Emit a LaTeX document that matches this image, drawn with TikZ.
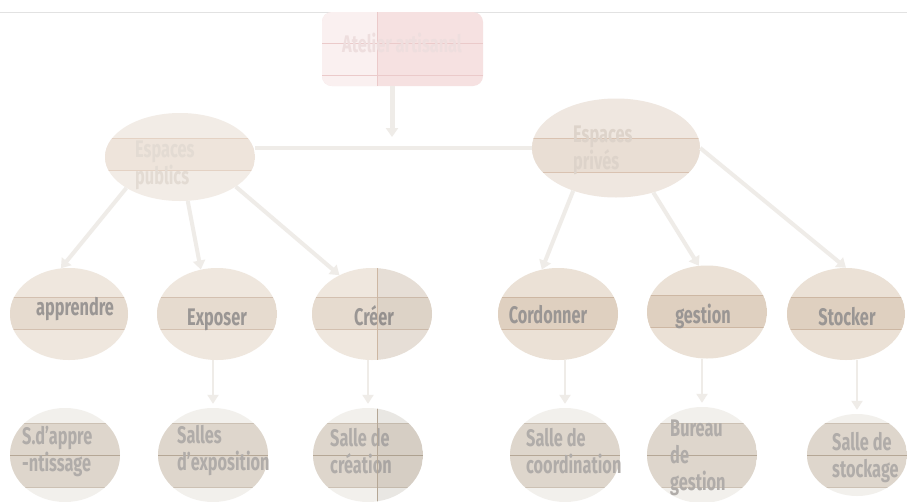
\documentclass[tikz,border=0pt]{standalone}
\usepackage{fontspec}
\setmainfont{Fira Sans}[FakeStretch=0.68]
\usetikzlibrary{shapes.geometric,arrows.meta}
\definecolor{lineC}{HTML}{EFECE8}
\definecolor{topC}{HTML}{E2E2E2}
\definecolor{titleR}{HTML}{F6E1E1}
\definecolor{titleL}{HTML}{FAF0F0}
\definecolor{titleLine}{HTML}{EBCACA}
\definecolor{titleTxt}{HTML}{EEDEDE}
\definecolor{pubOut}{HTML}{F2ECE6}
\definecolor{pubBand}{HTML}{EEE4DB}
\definecolor{pubLine}{HTML}{E4D2C4}
\definecolor{pubTxt}{HTML}{E3DBD3}
\definecolor{privOut}{HTML}{EFE7E0}
\definecolor{privBand}{HTML}{E9DED4}
\definecolor{privLine}{HTML}{D9C2B1}
\definecolor{privTxt}{HTML}{DDD3CA}
\definecolor{aOut}{HTML}{EFE7DE}
\definecolor{aBand}{HTML}{E6DBCF}
\definecolor{aLine}{HTML}{D3C0B0}
\definecolor{bOut}{HTML}{EBE1D6}
\definecolor{bBand}{HTML}{DFD0C0}
\definecolor{bLine}{HTML}{CDB7A3}
\definecolor{cOut}{HTML}{F2F0EC}
\definecolor{cBand}{HTML}{DED6CC}
\definecolor{cLine}{HTML}{CCC1B4}
\definecolor{cMid}{HTML}{B5A796}
\definecolor{txtTwo}{HTML}{9A9694}
\definecolor{txtThree}{HTML}{B0ACA9}
\tikzset{
  bandy/.style n args={4}{path picture={
    \fill[#3] ([yshift=#1]path picture bounding box.west) rectangle ([yshift=#2]path picture bounding box.east);
    \draw[#4,line width=0.7pt] ([yshift=#1]path picture bounding box.west) -- ([yshift=#1]path picture bounding box.east)
      ([yshift=#2]path picture bounding box.west) -- ([yshift=#2]path picture bounding box.east);}},
  blob/.style n args={3}{ellipse, draw=none, inner sep=0pt, minimum width=#1, minimum height=#2, fill=#3},
  lvlthree/.style n args={3}{ellipse, draw=none, inner sep=0pt, minimum width=#1, minimum height=#2, fill=cOut,
    path picture={
    \fill[#3] ([yshift=32pt]path picture bounding box.west) rectangle ([yshift=-32pt]path picture bounding box.east);
    \draw[cLine,line width=0.7pt] ([yshift=32pt]path picture bounding box.west) -- ([yshift=32pt]path picture bounding box.east)
      ([yshift=-32pt]path picture bounding box.west) -- ([yshift=-32pt]path picture bounding box.east);
    \draw[cMid,line width=0.8pt] (path picture bounding box.west) -- (path picture bounding box.east);}},
  txtb/.style={font=\fontsize{24}{27}\selectfont\bfseries, inner sep=0pt, align=left},
  conn/.style={draw=lineC, line width=4pt},
  arr/.style={conn, -{Triangle[width=12pt,length=9pt]}},
  thinarr/.style={draw=lineC, line width=2pt, -{Triangle[width=11pt,length=9pt]}, shorten >=4pt},
}
\begin{document}
\begin{tikzpicture}[x=1pt,y=-1pt]
\useasboundingbox (0,0) rectangle (907,501);
\fill[white] (0,0) rectangle (907,501);
\draw[topC, line width=0.8pt] (0,12) -- (907,12);
% title
\node[rectangle, rounded corners=10pt, fill=titleR, minimum width=161pt, minimum height=74pt, inner sep=0pt] (title) at (402.5,49) {};
\begin{scope}
\clip[rounded corners=10pt] (322,12) rectangle (483,86);
\fill[titleL] (322,12) rectangle (377,86);
\draw[titleLine, line width=0.6pt] (322,43) -- (483,43) (322,75) -- (483,75) (377,12) -- (377,86);
\end{scope}
\node[txtb, text=titleTxt, anchor=base] (titletxt) at (402,52) {Atelier artisanal};
% level 1
\node[blob={150pt}{88pt}{pubOut}, bandy={19pt}{-13pt}{pubBand}{pubLine}] (pub) at (180,157) {};
\node[txtb, text=pubTxt, anchor=base west] (pubtxt) at (135,184) {Espaces\\publics};
\node[blob={168pt}{99pt}{privOut}, bandy={10pt}{-24pt}{privBand}{privLine}] (priv) at (616,148) {};
\node[txtb, text=privTxt, anchor=base west] (privtxt) at (573,169) {Espaces\\privés};
% level 2
\node[blob={118pt}{92pt}{aOut}, bandy={17pt}{-15pt}{aBand}{aLine}] (app) at (69,314) {};
\node[blob={120pt}{92pt}{aOut}, bandy={17pt}{-15pt}{aBand}{aLine}] (exp) at (217,314) {};
\node[blob={120pt}{92pt}{aOut}, bandy={17pt}{-15pt}{aBand}{aLine}] (cre) at (372,314) {};
\node[blob={120pt}{92pt}{bOut}, bandy={17pt}{-15pt}{bBand}{bLine}] (cor) at (558,314) {};
\node[blob={120pt}{93pt}{bOut}, bandy={17pt}{-15pt}{bBand}{bLine}] (ges) at (707,312) {};
\node[blob={118pt}{92pt}{bOut}, bandy={17pt}{-15pt}{bBand}{bLine}] (sto) at (846,314) {};
\node[txtb, text=txtTwo, anchor=base] (apptxt) at (75,315) {apprendre};
\node[txtb, text=txtTwo, anchor=base] (exptxt) at (217,325) {Exposer};
\node[txtb, text=txtTwo, anchor=base] (cretxt) at (374,325) {Créer};
\node[txtb, text=txtTwo, anchor=base] (cortxt) at (548,323) {Cordonner};
\node[txtb, text=txtTwo, anchor=base] (gestxt) at (703,323) {gestion};
\node[txtb, text=txtTwo, anchor=base] (stotxt) at (847,325) {Stocker};
% level 3
\node[lvlthree={110pt}{94pt}{cBand}] (sapp) at (65,455) {};
\node[lvlthree={110pt}{94pt}{cBand}] (sexp) at (213,455) {};
\node[lvlthree={110pt}{94pt}{cBand}] (scre) at (368,455) {};
\node[lvlthree={110pt}{94pt}{cBand}] (scor) at (565,455) {};
\node[lvlthree={110pt}{96pt}{cBand}] (sges) at (702,455) {};
\node[lvlthree={100pt}{82pt}{cBand}] (ssto) at (857,455) {};
\node[txtb, text=txtThree, anchor=base west] (sapptxt) at (22,471) {S.d'appre\\-ntissage};
\node[txtb, text=txtThree, anchor=base west] (sexptxt) at (177,470) {Salles\\d'exposition};
\node[txtb, text=txtThree, anchor=base west] (scretxt) at (330,473) {Salle de\\création};
\node[txtb, text=txtThree, anchor=base west] (scortxt) at (526,473) {Salle de\\coordination};
\node[txtb, text=txtThree, anchor=base west] (sgestxt) at (670,490) {Bureau\\de\\gestion};
\node[txtb, text=txtThree, anchor=base west] (sstotxt) at (832,477) {Salle de\\stockage};
% darker right part of split shapes
\begin{scope}
\clip (cre.center) ellipse [x radius=60pt, y radius=46pt];
\fill[black, opacity=0.035] (377,260) rectangle (440,370);
\draw[bLine, line width=0.7pt] (377,260) -- (377,370);
\end{scope}
\begin{scope}
\clip (scre.center) ellipse [x radius=55pt, y radius=47pt];
\fill[black, opacity=0.035] (377,400) rectangle (430,505);
\draw[cMid, line width=0.7pt] (377,400) -- (377,505);
\end{scope}
% connectors
\coordinate (tj) at (392,137);
\draw[arr, line width=5pt] (title.south -| tj) -- (tj);
\draw[conn] (pub.east |- priv.west) -- (priv.west);
\draw[arr] (pub.-150) -- (app.100);
\draw[arr] (pub.-80) -- (exp.110);
\draw[arr] (pub.-28) -- (cre.130);
\draw[arr] (priv.-135) -- (cor.110);
\draw[arr] (priv.-50) -- (ges.100);
\draw[arr] (priv.east) -- (sto.north);
\draw[thinarr] (sexp.north |- exp.south) -- (sexp.north);
\draw[thinarr] (scre.north |- cre.south) -- (scre.north);
\draw[thinarr] (scor.north |- cor.south) -- (scor.north);
\draw[thinarr] (sges.north |- ges.south) -- (sges.north);
\draw[thinarr] (ssto.north |- sto.south) -- (ssto.north);
\end{tikzpicture}
\end{document}
